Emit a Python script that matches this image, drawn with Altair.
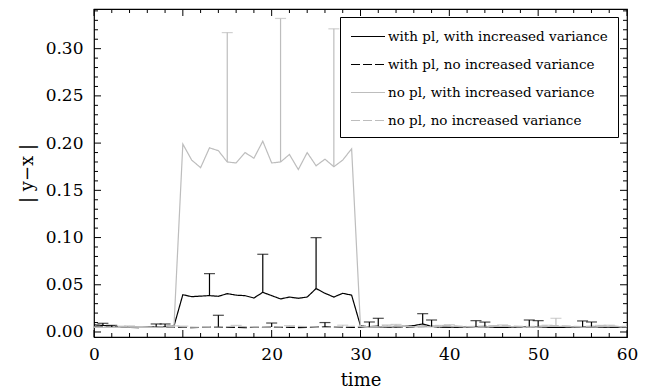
import altair as alt
import pandas as pd

FONT = "DejaVu Serif"

time = list(range(61))
series_names = [
    "with pl, with increased variance",
    "with pl, no increased variance",
    "no pl, with increased variance",
    "no pl, no increased variance",
]

with_pl_with_var = [0.0075, 0.0070, 0.0062, 0.0055, 0.0050, 0.0048, 0.0050, 0.0055, 0.0058, 0.0062,
                    0.0395, 0.0374, 0.0380, 0.0385, 0.0378, 0.0406, 0.0390, 0.0385, 0.0360, 0.0420,
                    0.0385, 0.0350, 0.0370, 0.0357, 0.0370, 0.0460, 0.0410, 0.0370, 0.0410, 0.0390,
                    0.0065, 0.0055, 0.0052, 0.0050, 0.0055, 0.0060, 0.0068, 0.0085, 0.0060, 0.0052,
                    0.0050, 0.0052, 0.0055, 0.0058, 0.0055, 0.0050, 0.0048, 0.0050, 0.0055, 0.0058,
                    0.0055, 0.0050, 0.0048, 0.0050, 0.0052, 0.0055, 0.0055, 0.0052, 0.0050, 0.0052, 0.0055]
with_pl_no_var = [0.0058, 0.0055, 0.0052, 0.0050, 0.0048, 0.0047, 0.0048, 0.0050, 0.0052, 0.0050,
                  0.0048, 0.0047, 0.0048, 0.0050, 0.0055, 0.0050, 0.0048, 0.0047, 0.0048, 0.0050,
                  0.0052, 0.0050, 0.0048, 0.0047, 0.0049, 0.0052, 0.0056, 0.0052, 0.0050, 0.0048,
                  0.0052, 0.0058, 0.0062, 0.0058, 0.0055, 0.0052, 0.0055, 0.0060, 0.0058, 0.0054,
                  0.0052, 0.0050, 0.0052, 0.0056, 0.0058, 0.0054, 0.0052, 0.0050, 0.0052, 0.0056,
                  0.0058, 0.0054, 0.0052, 0.0050, 0.0052, 0.0056, 0.0058, 0.0055, 0.0052, 0.0054, 0.0056]
no_pl_with_var = [0.0052, 0.0050, 0.0048, 0.0050, 0.0052, 0.0050, 0.0048, 0.0050, 0.0052, 0.0055,
                  0.199, 0.182, 0.174, 0.195, 0.192, 0.180, 0.179, 0.190, 0.184, 0.202,
                  0.179, 0.180, 0.188, 0.172, 0.190, 0.176, 0.183, 0.175, 0.182, 0.194,
                  0.0060, 0.0055, 0.0052, 0.0058, 0.0062, 0.0060, 0.0055, 0.0052, 0.0055, 0.0060,
                  0.0062, 0.0058, 0.0054, 0.0052, 0.0055, 0.0058, 0.0060, 0.0057, 0.0054, 0.0052,
                  0.0055, 0.0058, 0.0060, 0.0058, 0.0055, 0.0052, 0.0054, 0.0057, 0.0060, 0.0058, 0.0056]
no_pl_no_var = [0.0050, 0.0052, 0.0055, 0.0058, 0.0055, 0.0052, 0.0050, 0.0052, 0.0055, 0.0058,
                0.0055, 0.0052, 0.0050, 0.0052, 0.0055, 0.0058, 0.0060, 0.0056, 0.0052, 0.0050,
                0.0052, 0.0055, 0.0058, 0.0060, 0.0056, 0.0052, 0.0050, 0.0052, 0.0056, 0.0060,
                0.0058, 0.0055, 0.0058, 0.0062, 0.0065, 0.0062, 0.0058, 0.0060, 0.0065, 0.0068,
                0.0066, 0.0062, 0.0058, 0.0060, 0.0064, 0.0066, 0.0068, 0.0064, 0.0060, 0.0058,
                0.0062, 0.0066, 0.0068, 0.0064, 0.0060, 0.0058, 0.0062, 0.0066, 0.0064, 0.0060, 0.0058]

# error bars (upper ends) at selected time steps
err_t_1 = [1, 7, 13, 19, 25, 31, 37, 43, 49, 55]
err_hi_1 = [0.0092, 0.0085, 0.0618, 0.0823, 0.0999, 0.0106, 0.0194, 0.0120, 0.0127, 0.0117]
err_t_2 = [2, 8, 14, 20, 26, 32, 38, 44, 50, 56]
err_hi_2 = [0.0070, 0.0085, 0.0177, 0.0095, 0.0100, 0.0145, 0.0127, 0.0105, 0.0120, 0.0106]
err_t_3 = [3, 9, 15, 21, 27, 33, 39, 45, 51, 57]
err_hi_3 = [0.0062, 0.0065, 0.317, 0.332, 0.321, 0.0075, 0.0070, 0.0068, 0.0072, 0.0070]
err_t_4 = [4, 10, 16, 22, 28, 34, 40, 46, 52, 58]
err_hi_4 = [0.0065, 0.0062, 0.0070, 0.0068, 0.0072, 0.0080, 0.0078, 0.0075, 0.0145, 0.0072]

x_major = [0, 10, 20, 30, 40, 50, 60]
x_minor = [t for t in range(0, 61, 2) if t % 10 != 0]
y_major = [0.0, 0.05, 0.10, 0.15, 0.20, 0.25, 0.30]
y_minor = [round(i * 0.01, 2) for i in range(0, 35) if i % 5 != 0]

all_vals = [with_pl_with_var, with_pl_no_var, no_pl_with_var, no_pl_no_var]
all_err = [(err_t_1, err_hi_1), (err_t_2, err_hi_2), (err_t_3, err_hi_3), (err_t_4, err_hi_4)]

rows = []
for name, vals in zip(series_names, all_vals):
    for t, v in zip(time, vals):
        rows.append({"t": t, "v": v, "series": name})
df = pd.DataFrame(rows)

erows = []
for name, vals, (ets, ehs) in zip(series_names, all_vals, all_err):
    for t, h in zip(ets, ehs):
        erows.append({"t": t, "v": vals[t], "hi": h, "series": name})
edf = pd.DataFrame(erows)

W, H = 533, 328
xs = alt.Scale(domain=[0, 60], nice=False, zero=False)
ys = alt.Scale(domain=[-0.0053, 0.342], nice=False, zero=False)

xaxis = alt.Axis(title="time", values=x_major, ticks=False, tickSize=0, domain=False, grid=False,
                 labelFont=FONT, labelFontSize=17, labelColor="black", labelPadding=9,
                 labelFlush=False, titleFont=FONT, titleFontSize=18, titleFontWeight="normal",
                 titleColor="black", titleY=48, titleBaseline="alphabetic")
yaxis = alt.Axis(title="| y−x |", values=y_major, format=".2f", ticks=False, tickSize=0,
                 domain=False, grid=False, labelFont=FONT, labelFontSize=17, labelColor="black",
                 labelPadding=11, labelFlush=False, titleFont=FONT, titleFontSize=18,
                 titleFontWeight="normal", titleColor="black", titleX=-62, titleY=164,
                 titleAlign="center", titleBaseline="alphabetic")

legend = alt.Legend(title=None, orient="none", legendX=246, legendY=8, symbolType="M-1,0H3",
                    symbolSize=289, symbolStrokeWidth=1.2, symbolOpacity=1,
                    symbolFillColor="transparent", labelFont=FONT,
                    labelFontSize=13.5, labelColor="black", labelLimit=400, labelOffset=19,
                    strokeColor="black", fillColor="white", padding=10, rowPadding=12)

cscale = alt.Scale(domain=series_names, range=["black", "black", "#bdbdbd", "#bdbdbd"])
dscale = alt.Scale(domain=series_names, range=[[1, 0], [9, 3], [1, 0], [9, 3]])
color = alt.Color("series:N", scale=cscale, legend=legend, sort=series_names)
dash = alt.StrokeDash("series:N", scale=dscale, legend=legend, sort=series_names)

X = alt.X("t:Q", scale=xs, axis=xaxis)
Y = alt.Y("v:Q", scale=ys, axis=yaxis)

lines = alt.Chart(df).mark_line(strokeWidth=1.2, clip=True).encode(
    x=X, y=Y, color=color, strokeDash=dash, order="t:Q")

bars = alt.Chart(edf).mark_rule(strokeWidth=1.2, clip=True).encode(
    x=X, y=Y, y2="hi:Q", color=color)
caps = alt.Chart(edf).mark_tick(orient="horizontal", size=11, thickness=1.2, clip=True).encode(
    x=X, y=alt.Y("hi:Q", scale=ys, axis=yaxis), color=color)

xmaj = pd.DataFrame({"t": x_major})
xmin = pd.DataFrame({"t": x_minor})
ymaj = pd.DataFrame({"v": y_major})
ymin = pd.DataFrame({"v": y_minor})

tick_layers = []
for d, L in [(xmaj, 7), (xmin, 4)]:
    tick_layers.append(alt.Chart(d).mark_rule(color="black", strokeWidth=1).encode(
        x=X, y=alt.value(H), y2=alt.value(H - L)))
    tick_layers.append(alt.Chart(d).mark_rule(color="black", strokeWidth=1).encode(
        x=X, y=alt.value(0), y2=alt.value(L)))
for d, L in [(ymaj, 7), (ymin, 4)]:
    tick_layers.append(alt.Chart(d).mark_rule(color="black", strokeWidth=1).encode(
        y=Y, x=alt.value(0), x2=alt.value(L)))
    tick_layers.append(alt.Chart(d).mark_rule(color="black", strokeWidth=1).encode(
        y=Y, x=alt.value(W), x2=alt.value(W - L)))

chart = alt.layer(lines, bars, caps, *tick_layers).properties(
    width=W, height=H,
    autosize=alt.AutoSizeParams(type="none"),
    padding={"left": 94, "top": 9, "right": 19, "bottom": 55},
    background="white",
).configure_view(stroke="black", strokeWidth=1.2)

chart.save("out.html", embed_options={"renderer": "svg", "actions": False})
